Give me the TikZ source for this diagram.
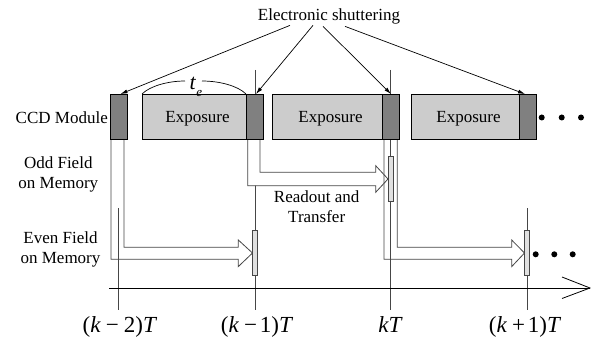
\documentclass[tikz,border=0pt]{standalone}
\usepackage{fontspec}
\setmainfont{Liberation Serif}
\usetikzlibrary{arrows.meta,calc}
\definecolor{shutgray}{RGB}{128,128,128}
\definecolor{expgray}{RGB}{204,204,204}
\definecolor{bargray}{RGB}{224,224,224}
\definecolor{linegray}{RGB}{70,70,70}
\begin{document}
\begin{tikzpicture}[x=1pt,y=-1pt,
  darkbox/.style={draw=black, fill=shutgray, line width=0.8pt, inner sep=0pt, outer sep=0pt,
    minimum width=17pt, minimum height=45pt, anchor=north west},
  expbox/.style={draw=black, fill=expgray, line width=0.8pt, inner sep=0pt, outer sep=0pt,
    minimum height=45pt, anchor=north west},
  membar/.style={draw=linegray, fill=bargray, line width=0.7pt, inner sep=0pt, outer sep=0pt,
    minimum width=5pt, minimum height=45pt},
  lbl/.style={font=\fontsize{17}{20}\selectfont, inner sep=0pt},
  tlbl/.style={font=\fontsize{23}{25}\selectfont, inner sep=0pt, anchor=base},
  hollowline/.style={draw=linegray, line width=0.8pt, line join=miter},
  tickline/.style={draw=linegray, line width=0.8pt},
  shut/.style={draw=black, line width=0.7pt, -{Latex[length=7pt,width=4pt]}},
  dotmark/.style={fill=black}
]
\useasboundingbox (0,0) rectangle (591,342);

% memory bars (named first for arrow tips)
\path (255,253) node[membar] (b1) {};
\path (390.5,179) node[membar] (b2) {};
\path (527,253) node[membar] (b3) {};

% (k-1)T line, hidden under readout arrow shaft
\draw[tickline] (255,70) -- (255,310);

% readout arrows: white fills
\fill[white] (111,139) -- (111,259.3) -- (238.3,259.3) -- (238.3,266.6) -- (b1.west) -- (238.3,240) -- (238.3,247.3) -- (124,247.3) -- (124,139) -- cycle;
\fill[white] (247.7,139) -- (247.7,185.7) -- (375.7,185.7) -- (375.7,192.3) -- (b2.west) -- (375.7,165.7) -- (375.7,172.3) -- (260,172.3) -- (260,139) -- cycle;
\fill[white] (384,139) -- (384,259.3) -- (511.7,259.3) -- (511.7,266.6) -- (b3.west) -- (511.7,240) -- (511.7,247.3) -- (397.3,247.3) -- (397.3,139) -- cycle;
% outlines
\draw[hollowline] (111,139) -- (111,259.3) -- (238.3,259.3) -- (238.3,266.6) -- (b1.west) -- (238.3,240) -- (238.3,247.3) -- (124,247.3) -- (124,139);
\draw[hollowline] (247.7,139) -- (247.7,185.7) -- (375.7,185.7) -- (375.7,192.3) -- (b2.west) -- (375.7,165.7) -- (375.7,172.3) -- (260,172.3) -- (260,139);
\draw[hollowline] (384,139) -- (384,259.3) -- (511.7,259.3) -- (511.7,266.6) -- (b3.west) -- (511.7,240) -- (511.7,247.3) -- (397.3,247.3) -- (397.3,139);

% other time lines
\draw[tickline] (390.5,70) -- (390.5,310);
\draw[tickline] (118.5,208) -- (118.5,310);
\draw[tickline] (527,208) -- (527,310);

% memory bars drawn on top
\path (255,253) node[membar] {};
\path (390.5,179) node[membar] {};
\path (527,253) node[membar] {};

% CCD module boxes
\node[darkbox] (d1) at (110,94) {};
\node[expbox, minimum width=104pt] (e1) at (142,94) {};
\node[darkbox] (d2) at (246,94) {};
\node[expbox, minimum width=110pt] (e2) at (272,94) {};
\node[darkbox] (d3) at (382,94) {};
\node[expbox, minimum width=108pt] (e3) at (411,94) {};
\node[darkbox] (d4) at (519,94) {};

\node[lbl, anchor=base] (x1) at ([xshift=3.5pt,yshift=-6.5pt]e1.center) {Exposure};
\node[lbl, anchor=base] (x2) at ([xshift=3.5pt,yshift=-6.5pt]e2.center) {Exposure};
\node[lbl, anchor=base] (x3) at ([xshift=3.5pt,yshift=-6.5pt]e3.center) {Exposure};

% time axis
\coordinate (ax0) at (109,288);
\coordinate (ax1) at (590,288);
\draw[black, line width=0.8pt] (ax0) -- (ax1);
\draw[black, line width=0.8pt] (562,277) -- (ax1) -- (562,298.5);

% labels
\node[lbl, anchor=base east] (ccd) at (108,124) {CCD Module};
\node[lbl, align=center] (odd) at (58.3,174) {Odd Field\\on Memory};
\node[lbl, align=center] (even) at (60.5,249) {Even Field\\on Memory};
\node[lbl, align=center] (rt) at (316.7,207) {Readout and\\Transfer};
\node[lbl, anchor=base] (es) at (329,21) {Electronic shuttering};

\draw[shut] ($(es.south)+(-39,0.5)$) -- ($(d1.north)+(2,0)$);
\draw[shut] ($(es.south)+(-16,0.5)$) -- ($(d2.north)+(1.5,0)$);
\draw[shut] ($(es.south)+(-6,1.5)$) -- ($(d3.north)+(0.5,0)$);
\draw[shut] ($(es.south)+(16,1.5)$) -- ($(d4.north)+(-2.5,0)$);

% exposure time label
\node[inner sep=0pt, anchor=base west, font=\fontsize{22}{24}\selectfont] (te) at (189.5,90)
  {\textit{t}\raisebox{-0.28em}{\fontsize{13}{13}\selectfont\textit{e}}};
\draw[black, line width=0.7pt] (e1.north west) .. controls (150,86) and (168,81) .. (185,81);
\draw[black, line width=0.7pt] (202,81) .. controls (220,81) and (238,86) .. (e1.north east);

% tick labels
\node[tlbl] (tk2) at (120,332) {(\textit{k}\hspace{0.22em}−\hspace{0.22em}2)\textit{T}};
\node[tlbl] (tk1) at (257,332) {(\textit{k}\hspace{0.22em}−\hspace{0.12em}1)\textit{T}};
\node[tlbl] (tk0) at (390.5,332) {\textit{kT}};
\node[tlbl] (tkp) at (525,332) {(\textit{k}\hspace{0.22em}+\hspace{0.12em}1)\textit{T}};

% continuation dots
\foreach \dx in {541.7,561.7,581} \fill[dotmark] (\dx,117.5) circle (3pt);
\foreach \dx in {535.7,554.3,572.7} \fill[dotmark] (\dx,254.3) circle (3pt);
\end{tikzpicture}
\end{document}
